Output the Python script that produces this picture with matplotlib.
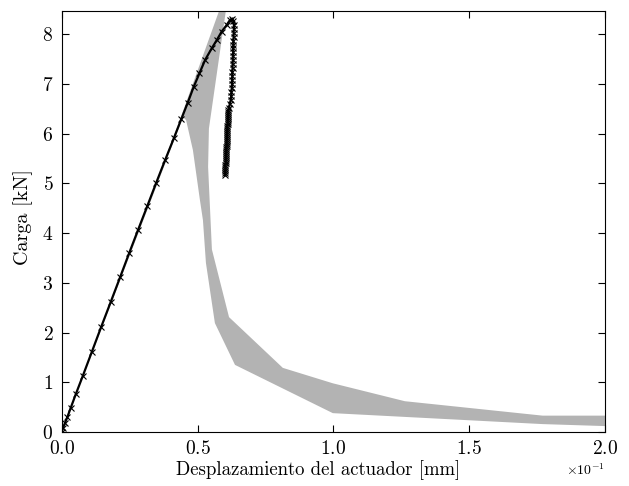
import numpy as np
import matplotlib
matplotlib.use("Agg")
import matplotlib.pyplot as plt

plt.rcParams['font.family'] = 'serif'
plt.rcParams['font.serif'] = ['cmr10', 'DejaVu Serif']
plt.rcParams['mathtext.fontset'] = 'cm'
plt.rcParams['axes.formatter.use_mathtext'] = True
plt.rcParams['axes.unicode_minus'] = False

# curva experimental: rama de carga (desplazamiento en mm, carga en kN)
x_subida = [0.0, 0.0005, 0.0012, 0.0021, 0.0033, 0.0052, 0.0078, 0.0111, 0.0146,
            0.0181, 0.0215, 0.0248, 0.0281, 0.0315, 0.0348, 0.0381, 0.0414, 0.0441,
            0.0464, 0.0486, 0.0507, 0.0528, 0.0552, 0.0571, 0.0589, 0.0607, 0.0619,
            0.0628]
y_subida = [0.0, 0.08, 0.18, 0.30, 0.48, 0.76, 1.13, 1.61, 2.12, 2.62, 3.11, 3.59,
            4.06, 4.54, 5.01, 5.47, 5.92, 6.30, 6.62, 6.94, 7.21, 7.48, 7.71, 7.88,
            8.05, 8.18, 8.28, 8.31]

# rama de descarga tras el pico
x_bajada = [0.0632, 0.0634, 0.0634, 0.0633, 0.0633, 0.0632, 0.0632, 0.0631, 0.0631,
            0.0630, 0.0630, 0.0629, 0.0629, 0.0628, 0.0628, 0.0627, 0.0627, 0.0626,
            0.0625, 0.0624, 0.0622, 0.0619,
            0.0615, 0.0614, 0.0614, 0.0613, 0.0613, 0.0612, 0.0612, 0.0611, 0.0611,
            0.0610, 0.0610, 0.0610, 0.0609, 0.0609, 0.0608, 0.0608, 0.0608, 0.0607,
            0.0607, 0.0607, 0.0606, 0.0606, 0.0606, 0.0605, 0.0605, 0.0605, 0.0604,
            0.0604, 0.0604, 0.0603, 0.0603, 0.0603, 0.0602, 0.0602, 0.0602]
y_bajada = [8.26, 8.19, 8.11, 8.03, 7.95, 7.87, 7.79, 7.71, 7.63, 7.55, 7.47, 7.39,
            7.31, 7.23, 7.15, 7.07, 6.99, 6.91, 6.83, 6.75, 6.67, 6.59,
            6.52, 6.48, 6.44, 6.40, 6.36, 6.32, 6.28, 6.24, 6.20, 6.16, 6.12, 6.08,
            6.04, 6.00, 5.96, 5.92, 5.88, 5.84, 5.80, 5.76, 5.72, 5.68, 5.64, 5.60,
            5.56, 5.52, 5.48, 5.44, 5.40, 5.36, 5.32, 5.28, 5.24, 5.20, 5.16]

# envolvente de las simulaciones (banda gris)
x_env_sup = [0.0, 0.0440, 0.0579, 0.0601, 0.0613, 0.0542, 0.0539, 0.0553, 0.0616,
             0.0814, 0.0998, 0.1263, 0.1770, 0.2000]
y_env_sup = [0.0, 6.35, 8.46, 8.80, 8.80, 6.10, 5.33, 3.67, 2.31,
             1.29, 0.98, 0.62, 0.33, 0.33]
x_env_inf = [0.2000, 0.1770, 0.0998, 0.0638, 0.0564, 0.0531, 0.0520, 0.0509,
             0.0483, 0.0458, 0.0447, 0.0]
y_env_inf = [0.12, 0.16, 0.38, 1.35, 2.19, 3.40, 4.26, 4.66,
             5.67, 6.27, 6.33, 0.0]

fig = plt.figure(figsize=(6.29, 4.86), dpi=100)
ax = fig.add_axes([0.098, 0.111, 0.864, 0.866])

ax.fill(x_env_sup + x_env_inf, y_env_sup + y_env_inf, color='0.7', lw=0, zorder=1)

x_exp = x_subida + x_bajada
y_exp = y_subida + y_bajada
ax.plot(x_exp, y_exp, color='k', lw=1.6, marker='x', ms=4.5, mew=0.8, zorder=3)

ax.set_xlim(0, 0.2)
ax.set_ylim(0, 8.46)
ax.set_xticks([0, 0.05, 0.10, 0.15, 0.20])
ax.set_yticks(range(0, 9))
ax.ticklabel_format(axis='x', style='sci', scilimits=(-1, -1))
ax.xaxis.get_offset_text().set_fontsize(10)

ax.tick_params(direction='in', top=True, right=True, length=5, labelsize=14, pad=6)
ax.set_xlabel('Desplazamiento del actuador [mm]', fontsize=13.5)
ax.set_ylabel('Carga [kN]', fontsize=14.5)
ax.xaxis.set_label_coords(0.472, -0.068)
ax.yaxis.set_label_coords(-0.052, 0.51)

fig.savefig('out.png', dpi=100)
